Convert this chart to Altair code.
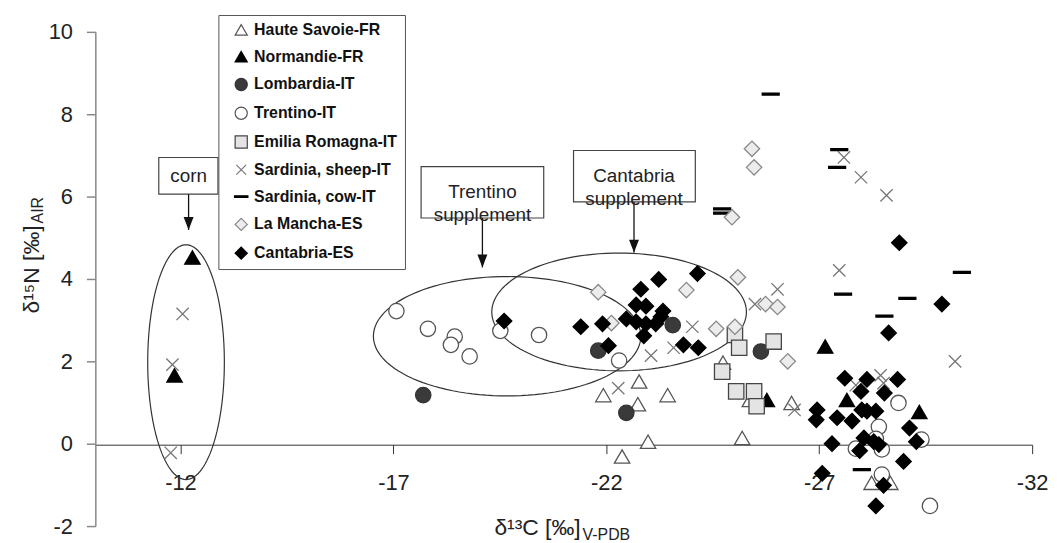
import altair as alt
import numpy as np
import pandas as pd

FONT = "Liberation Sans"

series = ["Haute Savoie-FR", "Normandie-FR", "Lombardia-IT", "Trentino-IT",
          "Emilia Romagna-IT", "Sardinia, sheep-IT", "Sardinia, cow-IT",
          "La Mancha-ES", "Cantabria-ES"]

hs_x = [-21.93, -22.77, -22.74, -23.44, -22.98, -22.37, -24.74, -25.37, -26.35, -25.19, -28.23, -28.67]
hs_y = [1.18, 1.51, 0.96, 1.18, 0.05, -0.31, 1.97, 1.06, 0.99, 0.14, -0.95, -0.95]

no_x = [-12.28, -11.86, -27.14, -25.77, -27.65, -29.35]
no_y = [4.52, 1.66, 2.36, 1.06, 1.06, 0.77]

lo_x = [-17.70, -21.81, -22.47, -23.56, -25.63]
lo_y = [1.18, 2.26, 0.75, 2.88, 2.24]

tr_x = [-17.07, -17.81, -18.44, -18.35, -18.79, -19.51, -20.42, -22.30, -28.86, -28.40,
        -28.33, -28.47, -27.86, -29.40, -28.47, -29.60]
tr_y = [3.22, 2.79, 2.60, 2.40, 2.12, 2.74, 2.64, 2.02, 0.99, 0.41,
        0.12, -0.14, -0.12, 0.10, -0.75, -1.51]

em_x = [-25.02, -25.12, -25.93, -24.72, -25.05, -25.47, -25.53]
em_y = [2.64, 2.33, 2.48, 1.75, 1.27, 1.27, 0.91]

sh_x = [-12.05, -11.81, -11.77, -22.28, -23.05, -23.58, -24.02, -25.49, -26.02, -26.42,
        -27.47, -27.58, -27.98, -28.58, -30.19, -28.44, -28.51, -27.86]
sh_y = [3.15, 1.92, -0.22, 1.35, 2.14, 2.33, 2.84, 3.39, 3.75, 0.82,
        4.21, 6.95, 6.47, 6.03, 2.00, 1.66, 1.47, 1.42]

co_x = [-25.86, -27.47, -27.42, -24.72, -24.72, -27.56, -30.35, -29.07, -28.53, -28.00]
co_y = [8.49, 7.14, 6.71, 5.70, 5.60, 3.63, 4.16, 3.53, 3.10, -0.63]

lm_x = [-25.42, -25.47, -24.95, -21.81, -22.12, -23.88, -25.09, -25.74, -26.02, -24.58, -25.02, -26.26]
lm_y = [7.16, 6.71, 5.50, 3.68, 2.93, 3.73, 4.04, 3.39, 3.32, 2.79, 2.84, 2.00]

ca_x = [-19.60, -21.40, -21.91, -22.05, -23.23, -24.14, -22.81, -22.70, -22.93, -23.33,
        -22.47, -22.70, -22.93, -23.16, -23.28, -22.88, -23.81, -24.16,
        -28.88, -29.88, -28.63, -27.60, -28.12, -28.84, -27.98, -28.53, -26.95, -26.93,
        -27.42, -27.77, -28.00, -28.12, -28.33, -29.12, -29.28, -27.30, -28.05, -27.95,
        -28.28, -28.40, -28.98, -27.07, -28.51, -28.33]
ca_y = [2.98, 2.84, 2.91, 2.38, 3.99, 4.13, 3.75, 3.37, 3.34, 3.22,
        3.03, 2.96, 2.91, 2.91, 3.08, 2.62, 2.40, 2.33,
        4.88, 3.39, 2.69, 1.59, 1.56, 1.56, 1.27, 1.23, 0.82, 0.58,
        0.63, 0.55, 0.82, 0.79, 0.79, 0.38, 0.05, 0.00, 0.14, -0.17,
        0.05, -0.02, -0.43, -0.72, -1.01, -1.51]

x_ticks = [-12, -17, -22, -27, -32]
y_ticks = [-2, 0, 2, 4, 6, 8, 10]

# ellipses: name, center x, center y, semi-axis x, semi-axis y
ell_name = ["corn", "trentino", "cantabria"]
ell_cx = [-12.13, -19.67, -22.30]
ell_cy = [1.98, 2.61, 3.20]
ell_ax = [0.90, 3.14, 2.99]
ell_ay = [2.85, 1.45, 1.43]

# annotation boxes
box_text = ["corn", "Trentino\nsupplement", "Cantabria\nsupplement"]
box_x1 = [-11.49, -17.65, -21.23]
box_x2 = [-12.88, -20.53, -24.09]
box_y1 = [6.95, 6.73, 7.12]
box_y2 = [6.06, 5.48, 5.87]
box_tx = [-12.19, -19.09, -22.65]
box_ty = [6.50, 6.11, 6.49]
arrow_tip = [5.19, 4.28, 4.64]

shapes = ["triangle-up", "triangle-up", "circle", "circle", "square",
          "M-0.8,-0.8L0.8,0.8M-0.8,0.8L0.8,-0.8",
          "M-1.1,-0.13L1.1,-0.13L1.1,0.13L-1.1,0.13Z",
          "diamond", "diamond"]
fills = ["#ffffff", "#000000", "#3a3a3a", "#ffffff", "#e4e4e4", "transparent", "#000000", "#ececec", "#000000"]
strokes = ["#555555", "#000000", "#333333", "#555555", "#444444", "#777777", "#000000", "#888888", "#000000"]

xs = [hs_x, no_x, lo_x, tr_x, em_x, sh_x, co_x, lm_x, ca_x]
ys = [hs_y, no_y, lo_y, tr_y, em_y, sh_y, co_y, lm_y, ca_y]
rows = []
for s, xx, yy in zip(series, xs, ys):
    for a, b in zip(xx, yy):
        rows.append({"series": s, "x": a, "y": b})
pts = pd.DataFrame(rows)

erows = []
for n, cx, cy, ax, ay in zip(ell_name, ell_cx, ell_cy, ell_ax, ell_ay):
    for i, t in enumerate(np.linspace(0, 2 * np.pi, 121)):
        erows.append({"e": n, "i": i, "x": cx + ax * np.cos(t), "y": cy + ay * np.sin(t)})
ell = pd.DataFrame(erows)

boxes = pd.DataFrame({"label": box_text, "x": box_x1, "x2": box_x2, "y": box_y1, "y2": box_y2,
                      "tx": box_tx, "ty": box_ty, "tip": arrow_tip})

xscale = alt.Scale(domain=[-32, -10], reverse=True, nice=False, zero=False)
yscale = alt.Scale(domain=[-2, 10], nice=False, zero=False)
xaxis = alt.Axis(values=x_ticks, title=None, offset=-82, tickSize=9, labelPadding=19,
                 labelFontSize=22, labelFont=FONT, labelColor="#222", domainColor="#333",
                 tickColor="#333", grid=False, labelFlush=False, labelOverlap=False,
                 labelExpr="'' + datum.value")
yaxis = alt.Axis(values=y_ticks, title=None, tickSize=9, labelPadding=14,
                 labelFontSize=22, labelFont=FONT, labelColor="#222", domainColor="#888",
                 domainWidth=1.5, tickColor="#888", tickWidth=1.5, grid=False, labelOverlap=False,
                 labelExpr="'' + datum.value")

X = alt.X("x:Q", scale=xscale, axis=xaxis)
Y = alt.Y("y:Q", scale=yscale, axis=yaxis)
TX = alt.X("tx:Q", scale=xscale, axis=xaxis)

legend = alt.Legend(title=None, orient="none", legendX=124, legendY=-17,
                    labelFont=FONT, labelFontSize=16, labelFontWeight="bold", labelColor="#111",
                    symbolSize=150, symbolStrokeWidth=1.2, rowPadding=11, padding=7,
                    symbolOffset=8, labelOffset=5, strokeColor="#555", fillColor="white")

ellipses = alt.Chart(ell).mark_line(color="#333", strokeWidth=1.2).encode(
    x=X, y=Y, detail="e:N", order="i:Q")

rects = alt.Chart(boxes).mark_rect(fill="white", stroke="#444", strokeWidth=1.2).encode(
    x=X, x2="x2:Q", y=Y, y2="y2:Q")

arrows = alt.Chart(boxes).mark_rule(color="#111", strokeWidth=1.3).encode(
    x=TX, y=alt.Y("y2:Q", scale=yscale, axis=yaxis), y2="tip:Q")

heads = alt.Chart(boxes).mark_point(shape="M-1,-2.6L1,-2.6L0,0Z", size=100, filled=True,
                                    color="#111", opacity=1).encode(
    x=TX, y=alt.Y("tip:Q", scale=yscale, axis=yaxis))

texts = alt.Chart(boxes).mark_text(font=FONT, fontSize=19, color="#222", lineBreak="\n",
                                   lineHeight=23, baseline="middle").encode(
    x=TX, y=alt.Y("ty:Q", scale=yscale, axis=yaxis), text="label:N")

points = alt.Chart(pts).mark_point(size=240, opacity=1, strokeWidth=1.3).encode(
    x=X, y=Y,
    shape=alt.Shape("series:N", scale=alt.Scale(domain=series, range=shapes), legend=legend),
    fill=alt.Fill("series:N", scale=alt.Scale(domain=series, range=fills), legend=legend),
    stroke=alt.Stroke("series:N", scale=alt.Scale(domain=series, range=strokes), legend=legend),
)

one = pd.DataFrame({"a": [0]})
xt_main = alt.Chart(one).mark_text(text="δ¹³C [‰]", font=FONT, fontSize=23, color="#222",
                                   align="right", baseline="alphabetic").encode(
    x=alt.value(489), y=alt.value(507))
xt_sub = alt.Chart(one).mark_text(text="V-PDB", font=FONT, fontSize=16, color="#222",
                                  align="left", baseline="alphabetic").encode(
    x=alt.value(491), y=alt.value(512))
yt_main = alt.Chart(one).mark_text(text="δ¹⁵N [‰]", font=FONT, fontSize=23, color="#222",
                                   align="right", baseline="alphabetic", angle=270).encode(
    x=alt.value(-57), y=alt.value(195))
yt_sub = alt.Chart(one).mark_text(text="AIR", font=FONT, fontSize=16, color="#222",
                                  align="left", baseline="alphabetic", angle=270).encode(
    x=alt.value(-53), y=alt.value(193))

chart = alt.layer(ellipses, rects, arrows, heads, texts, points,
                  xt_main, xt_sub, yt_main, yt_sub).properties(
    width=944, height=498,
    padding={"left": 88, "top": 22, "right": 20, "bottom": 15},
    autosize=alt.AutoSizeParams(type="none"),
).configure_view(stroke=None)

chart.save("out.html", embed_options={"renderer": "svg", "actions": False})
